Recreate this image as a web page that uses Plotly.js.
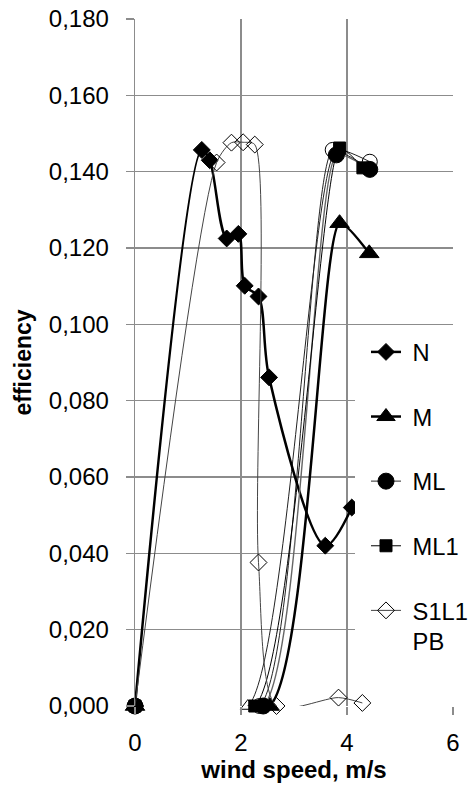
<!DOCTYPE html>
<html>
<head>
<meta charset="utf-8">
<script src="https://cdn.plot.ly/plotly-3.0.1.min.js"></script>
<style>html,body{margin:0;padding:0;background:#fff;}#chart{width:473px;height:786px;}</style>
</head>
<body>
<div id="chart"></div>
<script>
// Series values (wind speed m/s, efficiency)
var N_x = [0, 1.26, 1.41, 1.73, 1.95, 2.07, 2.33, 2.53, 3.59, 4.09];
var N_y = [0, 0.1457, 0.1430, 0.1225, 0.1237, 0.1101, 0.1073, 0.0861, 0.0420, 0.0520];

var M_x = [0, 2.54, 3.86, 4.42];
var M_y = [0, 0, 0.1265, 0.1186];

var ML_x = [0, 2.42, 3.80, 4.43];
var ML_y = [0, 0, 0.1444, 0.1406];

var ML1_x = [0, 2.26, 3.86, 4.30];
var ML1_y = [0, 0, 0.1462, 0.1410];

var PB_x = [0, 1.54, 1.82, 2.04, 2.26, 2.33, 2.67, 3.84, 4.29];
var PB_y = [0, 0.1424, 0.1476, 0.1477, 0.1471, 0.0376, 0.0, 0.0022, 0.0008];

// series whose legend entries are cut off in the reference
var OC_x = [0, 2.35, 3.73, 4.43];
var OC_y = [0, 0, 0.1457, 0.1426];
var OT_x = [0, 2.13, 3.78, 4.42];
var OT_y = [0, 0, 0.1450, 0.1408];

// legend labels (second line kept empty so every entry has the same height)
var names = ['\u00a0N<br>\u00a0', '\u00a0M<br>\u00a0', '\u00a0ML<br>\u00a0', '\u00a0ML1<br>\u00a0', '\u00a0S1L1<br>\u00a0PB'];

function tr(x, y, name, lineColor, lineW, sym, size, show, smooth) {
  return {
    x: x, y: y, name: name, type: 'scatter', mode: 'lines+markers',
    line: {shape: 'spline', smoothing: smooth, color: lineColor, width: lineW},
    marker: {symbol: sym, size: size, color: '#000', line: {color: '#000', width: 1}},
    cliponaxis: false, showlegend: show, hoverinfo: 'skip'
  };
}

var data = [
  tr(OC_x, OC_y, 'oc', '#222', 1, 'circle-open', 15, false, 0.55),
  tr(OT_x, OT_y, 'ot', '#222', 1, 'triangle-up-open', 13, false, 0.55),
  tr(N_x, N_y, names[0], '#000', 2.5, 'diamond', 13, true, 0.9),
  tr(M_x, M_y, names[1], '#000', 2.5, 'triangle-up', 17, true, 0.6),
  tr(ML_x, ML_y, names[2], '#666', 1.4, 'circle', 16, true, 0.55),
  tr(ML1_x, ML1_y, names[3], '#000', 1, 'square', 12, true, 0.55),
  tr(PB_x, PB_y, names[4], '#444', 1, 'diamond-open', 13, true, 0.75)
];

var gridC = '#8c8c8c';
var layout = {
  width: 473, height: 786,
  margin: {l: 135, r: 20, t: 19, b: 80, autoexpand: false},
  paper_bgcolor: '#fff', plot_bgcolor: '#fff',
  separators: ', ',
  font: {family: 'Liberation Sans, Arial, sans-serif', size: 24, color: '#000'},
  showlegend: true,
  legend: {
    x: 0.7264, xanchor: 'left', y: 0.5473, yanchor: 'top',
    bgcolor: 'rgba(0,0,0,0)', borderwidth: 0, traceorder: 'normal',
    valign: 'top', font: {size: 23.7}
  },
  // white legend panel (overlapping the plot, as in the original)
  shapes: [{
    type: 'rect', xref: 'paper', yref: 'paper', layer: 'above',
    x0: 0.6918, x1: 1.07, y0: 0.0568, y1: 0.5444,
    fillcolor: '#fff', line: {width: 0}
  }],
  xaxis: {
    range: [0, 6], dtick: 2, tick0: 0, showgrid: true, gridcolor: gridC, gridwidth: 1.3,
    zeroline: false, showline: false, ticks: 'outside', ticklen: 8, tickcolor: gridC, tickwidth: 1.3,
    ticklabelstandoff: 7,
    title: {text: '<b>wind speed, m/s</b>', font: {size: 24}, standoff: 6},
    fixedrange: true
  },
  yaxis: {
    range: [0, 0.18], dtick: 0.02, tick0: 0, tickformat: '.3f', showgrid: true, gridcolor: gridC, gridwidth: 1.3,
    zeroline: false, showline: true, linecolor: gridC, linewidth: 1.3, ticks: 'outside', ticklen: 8, tickcolor: gridC, tickwidth: 1.3,
    ticklabelstandoff: 12,
    title: {text: '<b>efficiency</b>', font: {size: 23}, standoff: 10},
    fixedrange: true
  }
};

Plotly.newPlot('chart', data, layout, {displayModeBar: false, staticPlot: true});
</script>
</body>
</html>
